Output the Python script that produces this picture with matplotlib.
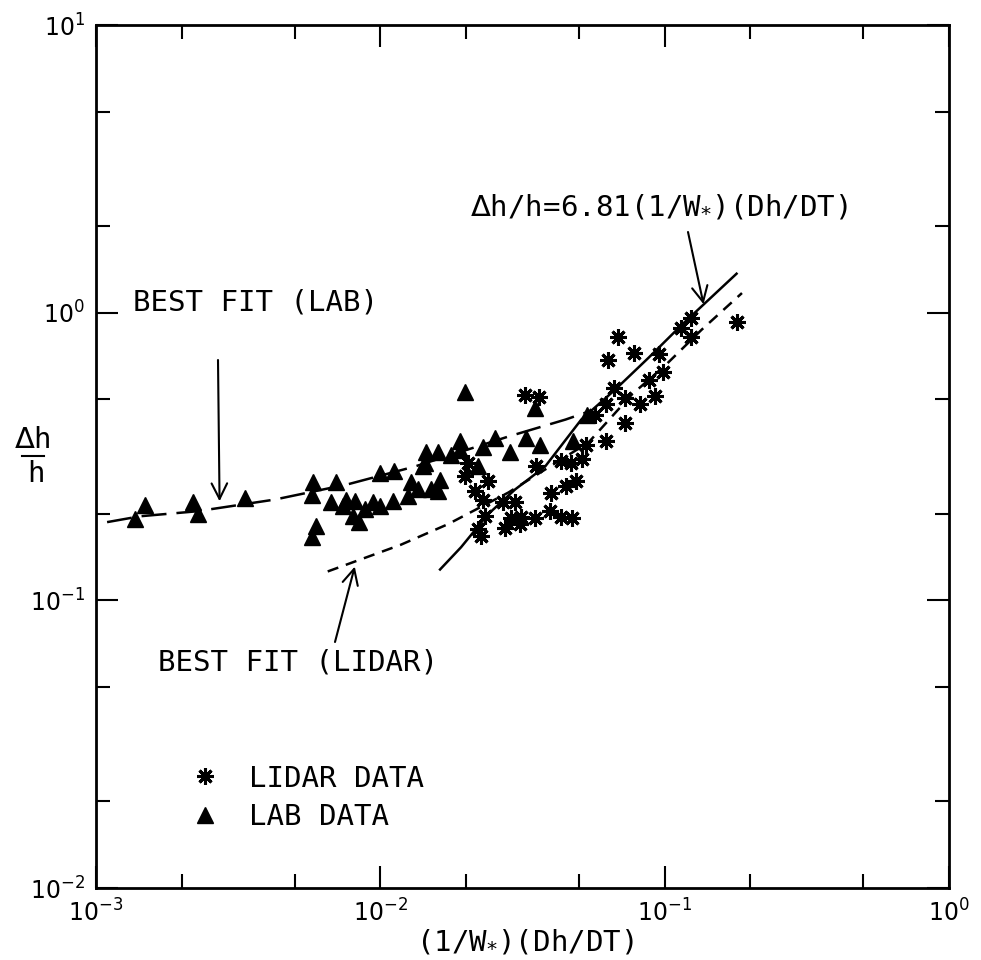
import matplotlib
matplotlib.use("Agg")
import matplotlib.pyplot as plt
from matplotlib.ticker import LogLocator, NullFormatter, FixedLocator, FixedFormatter

plt.rcParams['font.family'] = ['DejaVu Sans Mono', 'DejaVu Sans']
plt.rcParams['mathtext.fontset'] = 'dejavusans'

# lab data (triangles)
lab_x = [1.37e-3, 1.49e-3, 2.20e-3, 2.29e-3, 3.33e-3, 5.73e-3, 5.78e-3, 5.92e-3, 5.73e-3,
         6.69e-3, 6.97e-3, 7.38e-3, 7.55e-3, 8.00e-3, 8.13e-3, 8.40e-3, 8.82e-3, 9.41e-3,
         9.96e-3, 1.00e-2, 1.11e-2, 1.12e-2, 1.25e-2, 1.28e-2, 1.36e-2, 1.41e-2, 1.45e-2,
         1.44e-2, 1.51e-2, 1.60e-2, 1.62e-2, 1.60e-2, 1.77e-2, 1.91e-2, 1.91e-2, 1.99e-2,
         2.21e-2, 2.30e-2, 2.53e-2, 2.86e-2, 3.26e-2, 3.51e-2, 3.65e-2, 4.77e-2, 5.31e-2]
lab_y = [0.191, 0.215, 0.219, 0.199, 0.226, 0.233, 0.257, 0.181, 0.166,
         0.219, 0.257, 0.212, 0.224, 0.196, 0.221, 0.187, 0.207, 0.219,
         0.212, 0.278, 0.222, 0.281, 0.230, 0.257, 0.243, 0.292, 0.329,
         0.301, 0.243, 0.327, 0.263, 0.239, 0.321, 0.357, 0.334, 0.532,
         0.292, 0.340, 0.368, 0.329, 0.368, 0.468, 0.348, 0.357, 0.442]

# lidar data (asterisks)
lidar_x = [0.0324, 0.0362, 0.0204, 0.0199, 0.0239, 0.0215, 0.0230, 0.0234, 0.0221, 0.0226,
           0.0270, 0.0298, 0.0354, 0.0275, 0.0288, 0.0313, 0.0311, 0.0351, 0.0396, 0.0433,
           0.0474, 0.0399, 0.0448, 0.0489, 0.0433, 0.0470, 0.0510, 0.0527, 0.0624, 0.0727,
           0.0822, 0.0624, 0.0571, 0.0661, 0.0727, 0.0879, 0.0923, 0.0990, 0.0952, 0.0683,
           0.0634, 0.0778, 0.114, 0.124, 0.124, 0.179]
lidar_y = [0.519, 0.510, 0.301, 0.270, 0.259, 0.239, 0.224, 0.196, 0.177, 0.167,
           0.219, 0.219, 0.292, 0.179, 0.194, 0.195, 0.184, 0.194, 0.204, 0.195,
           0.194, 0.236, 0.249, 0.259, 0.304, 0.299, 0.311, 0.348, 0.357, 0.415,
           0.480, 0.480, 0.442, 0.549, 0.507, 0.585, 0.515, 0.620, 0.721, 0.826,
           0.687, 0.726, 0.887, 0.962, 0.826, 0.930]

# best fit curves
fit_lab_x = [1.094e-3, 1.43e-3, 2.27e-3, 4.25e-3, 7.67e-3, 0.01324, 0.0282, 0.0448, 0.0540]
fit_lab_y = [0.187, 0.196, 0.204, 0.224, 0.253, 0.292, 0.371, 0.425, 0.453]

fit_lidar_x = [6.53e-3, 0.0118, 0.0173, 0.0282, 0.0380, 0.0540, 0.0766, 0.101, 0.135, 0.187]
fit_lidar_y = [0.126, 0.156, 0.184, 0.237, 0.285, 0.354, 0.519, 0.659, 0.873, 1.17]

eq_x = [0.01622, 0.01923, 0.0239, 0.0298, 0.0380, 0.0509, 0.0671, 0.0879, 0.115, 0.179]
eq_y = [0.128, 0.153, 0.199, 0.243, 0.292, 0.425, 0.541, 0.698, 0.908, 1.366]

decades_x = [1e-3, 1e-2, 1e-1, 1e0]
labels_x = [r'$10^{-3}$', r'$10^{-2}$', r'$10^{-1}$', r'$10^{0}$']
decades_y = [1e-2, 1e-1, 1e0, 1e1]
labels_y = [r'$10^{-2}$', r'$10^{-1}$', r'$10^{0}$', r'$10^{1}$']

W, H = 981, 960
fig = plt.figure(figsize=(W / 100, H / 100), dpi=100)
ax = fig.add_axes([96 / W, 1 - 888 / H, 853 / W, 863 / H])
ax.set_xscale('log')
ax.set_yscale('log')
ax.set_xlim(1e-3, 1)
ax.set_ylim(1e-2, 10)

ax.xaxis.set_major_locator(FixedLocator(decades_x))
ax.xaxis.set_major_formatter(FixedFormatter(labels_x))
ax.yaxis.set_major_locator(FixedLocator(decades_y))
ax.yaxis.set_major_formatter(FixedFormatter(labels_y))
ax.xaxis.set_minor_locator(LogLocator(base=10, subs=(2, 5)))
ax.yaxis.set_minor_locator(LogLocator(base=10, subs=(2, 5)))
ax.xaxis.set_minor_formatter(NullFormatter())
ax.yaxis.set_minor_formatter(NullFormatter())
ax.tick_params(which='both', direction='in', top=True, right=True, width=1.5,
               labelsize=17, color='black')
ax.tick_params(which='major', length=16, pad=8)
ax.tick_params(which='minor', length=10)
for s in ax.spines.values():
    s.set_linewidth(2)

ax.plot(fit_lab_x, fit_lab_y, color='black', lw=1.8, dashes=(10, 4))
ax.plot(fit_lidar_x, fit_lidar_y, color='black', lw=1.8, dashes=(4.5, 3.2))
ax.plot(eq_x, eq_y, color='black', lw=1.8)

ax.plot(lab_x, lab_y, ls='none', marker='^', ms=11, color='black', label='LAB DATA')
ax.plot(lidar_x, lidar_y, ls='none', marker=(8, 2, 0), ms=12, mew=2.2, color='black',
        label='LIDAR DATA')

txt = dict(fontsize=21, color='black', ha='left', va='center')
fig.text(133 / W, 1 - 302 / H, 'BEST FIT (LAB)', **txt)
fig.text(158 / W, 1 - 663 / H, 'BEST FIT (LIDAR)', **txt)
fig.text(470 / W, 1 - 207 / H, r'$\Delta$h/h=6.81(1/W$_{*}$)(Dh/DT)', **txt)

arrow = dict(arrowstyle='->', lw=1.5, color='black', mutation_scale=28, shrinkA=0, shrinkB=0)
ax.annotate('', xy=(2.72e-3, 0.221), xycoords='data',
            xytext=(218, H - 360), textcoords='figure pixels', arrowprops=arrow)
ax.annotate('', xy=(8.13e-3, 0.131), xycoords='data',
            xytext=(335, H - 642), textcoords='figure pixels', arrowprops=arrow)
ax.annotate('', xy=(0.137, 1.07), xycoords='data',
            xytext=(688, H - 232), textcoords='figure pixels', arrowprops=arrow)

handles, labels = ax.get_legend_handles_labels()
ax.legend(handles[::-1], labels[::-1], loc='upper left', bbox_to_anchor=(173 / W, 1 - 750 / H),
          bbox_transform=fig.transFigure, frameon=False, fontsize=21, handlelength=1.2,
          handletextpad=0.9, labelspacing=0.35, borderpad=0)

# axis labels
fig.text(32 / W, 1 - 440 / H, r'$\Delta$h', fontsize=21, ha='center', va='center')
fig.add_artist(plt.Line2D([22 / W, 44 / W], [1 - 456 / H, 1 - 456 / H], color='black', lw=1.5))
fig.text(36 / W, 1 - 474 / H, 'h', fontsize=21, ha='center', va='center')
fig.text(525 / W, 1 - 942 / H, '(1/W$_{*}$)(Dh/DT)', fontsize=21, ha='center', va='center')

fig.savefig('out.png', dpi=100)
